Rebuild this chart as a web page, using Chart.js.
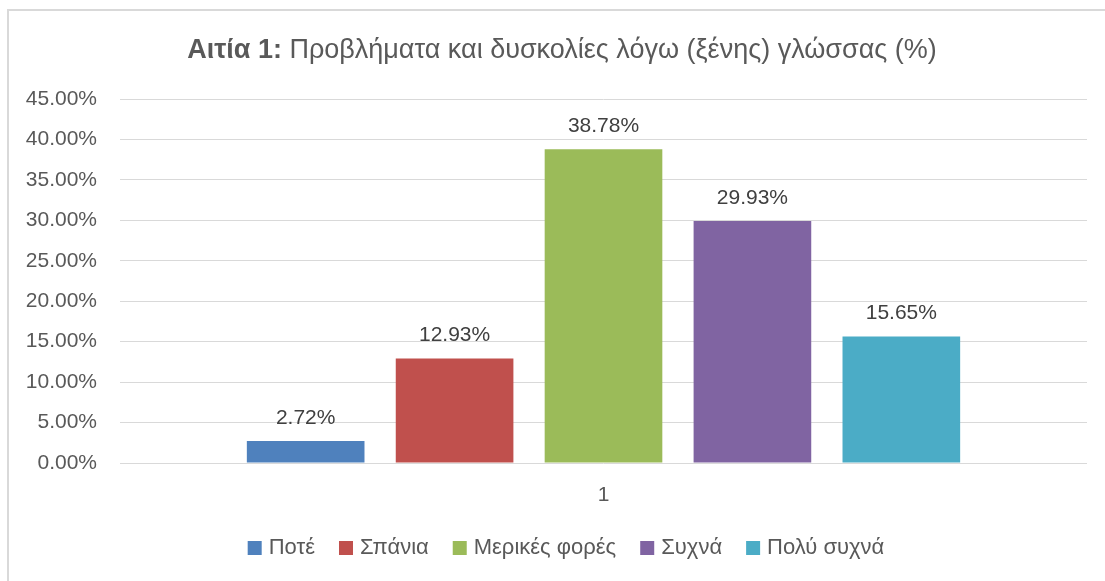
<!DOCTYPE html>
<html>
<head>
<meta charset="utf-8">
<script src="https://cdn.jsdelivr.net/npm/chart.js@4"></script>
<style>
  html, body { margin: 0; padding: 0; background: #fff; }
  #wrap { width: 1105px; height: 581px; position: relative; }
</style>
</head>
<body>
<div id="wrap"><canvas id="chart" width="1105" height="581"></canvas></div>
<script>
// data
const categories = ['1'];
const seriesNames = ['Ποτέ', 'Σπάνια', 'Μερικές φορές', 'Συχνά', 'Πολύ συχνά'];
const seriesValues = [2.72, 12.93, 38.78, 29.93, 15.65];
const seriesColors = ['#4F81BD', '#C0504D', '#9BBB59', '#8064A2', '#4BACC6'];
const titleBold = 'Αιτία 1:';
const titleRest = ' Προβλήματα και δυσκολίες λόγω (ξένης) γλώσσας (%)';

const FONT = '"Liberation Sans", Arial, sans-serif';
const TEXT = '#595959';

const datasets = seriesNames.map((name, i) => ({
    label: name,
    data: [seriesValues[i]],
    backgroundColor: seriesColors[i],
    borderWidth: 0,
    categoryPercentage: 0.77,
    barPercentage: 0.79
}));

// frame, title, value labels and legend drawn on the canvas
const extras = {
    id: 'extras',
    beforeDraw(chart) {
        const c = chart.ctx;
        c.save();
        c.strokeStyle = '#d9d9d9';
        c.lineWidth = 2;
        c.beginPath();
        c.moveTo(8, 581);
        c.lineTo(8, 10);
        c.lineTo(1105, 10);
        c.stroke();
        c.restore();
    },
    afterDatasetsDraw(chart) {
        const c = chart.ctx;
        c.save();
        c.fillStyle = '#404040';
        c.font = '21px ' + FONT;
        c.textAlign = 'center';
        c.textBaseline = 'middle';
        chart.data.datasets.forEach((ds, i) => {
            const bar = chart.getDatasetMeta(i).data[0];
            c.fillText(ds.data[0].toFixed(2) + '%', bar.x, bar.y - 23);
        });
        c.restore();
    },
    afterDraw(chart) {
        const c = chart.ctx;
        c.save();
        // title
        c.textBaseline = 'middle';
        c.fillStyle = TEXT;
        c.font = 'bold 27px ' + FONT;
        const wb = c.measureText(titleBold).width;
        c.font = '27px ' + FONT;
        const wr = c.measureText(titleRest).width;
        let x = 562 - (wb + wr) / 2;
        c.textAlign = 'left';
        c.font = 'bold 27px ' + FONT;
        c.fillText(titleBold, x, 51);
        c.font = '27px ' + FONT;
        c.fillText(titleRest, x + wb, 51);

        // legend
        c.font = '22px ' + FONT;
        const box = 14, gapBox = 7, gapItem = 24;
        const widths = seriesNames.map(n => c.measureText(n).width);
        const total = widths.reduce((a, w) => a + box + gapBox + w, 0) + gapItem * (seriesNames.length - 1);
        x = 566 - total / 2;
        const y = 548;
        seriesNames.forEach((n, i) => {
            c.fillStyle = seriesColors[i];
            c.fillRect(x, y - box / 2, box, box);
            c.fillStyle = TEXT;
            c.fillText(n, x + box + gapBox, y);
            x += box + gapBox + widths[i] + gapItem;
        });
        c.restore();
    }
};

new Chart(document.getElementById('chart'), {
    type: 'bar',
    data: { labels: categories, datasets: datasets },
    options: {
        responsive: false,
        animation: false,
        layout: { padding: { top: 99, right: 18, left: 0, bottom: 0 } },
        plugins: {
            legend: { display: false },
            title: { display: false },
            tooltip: { enabled: false }
        },
        scales: {
            x: {
                grid: { display: false, drawTicks: false },
                border: { display: false },
                ticks: { color: TEXT, font: { family: FONT, size: 21 }, padding: 20 },
                afterFit(scale) { scale.height = 118; }
            },
            y: {
                min: 0,
                max: 45,
                ticks: {
                    stepSize: 5,
                    padding: 23,
                    color: TEXT,
                    font: { family: FONT, size: 21 },
                    callback: v => v.toFixed(2) + '%'
                },
                grid: { color: '#d9d9d9', lineWidth: 1, drawTicks: false },
                border: { display: false },
                afterFit(scale) { scale.width = 120; }
            }
        }
    },
    plugins: [extras]
});
</script>
</body>
</html>
